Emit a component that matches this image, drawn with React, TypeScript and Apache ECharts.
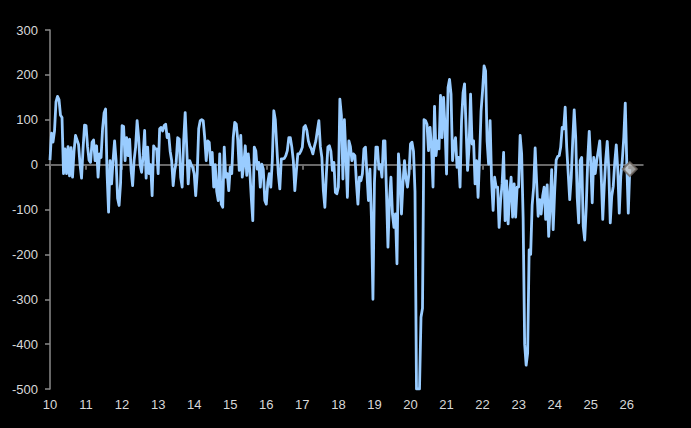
import React, { useEffect, useRef } from "react";
import * as echarts from "echarts";

// Semi-monthly readings, one array per year
const v2010 = [10, 70, 50, 75, 140, 152, 145, 110, 105, -20, 35, -20, 40, -25, 38, -28, 30, 65, 55, 45, 0, -30, 35, 88];
const v2011 = [87, 40, 10, 5, 50, 55, 9, 42, -28, 24, 16, 80, 115, 124, -20, -106, 9, -43, 10, 53, 9, -75, -91, -40];
const v2012 = [87, 85, 9, 60, 20, 57, -13, -47, 10, 39, 98, 60, 0, -17, 20, 76, -30, 39, -20, 0, -69, 42, 35, 35];
const v2013 = [-20, 80, 83, 75, 87, 90, 60, 68, 30, 9, -47, -13, 5, 60, 57, -28, -50, 53, 116, 39, -43, 9, 0, -6];
const v2014 = [-20, -69, -20, 80, 98, 100, 98, 60, 9, 53, 50, 0, 27, -50, 0, -60, -80, 24, -88, -95, 39, -28, -20, -58];
const v2015 = [-6, -20, 60, 94, 90, 55, -13, 65, -28, 0, 42, -24, 24, -13, -73, -125, 39, 31, -10, 5, -50, 1, -10, -80];
const v2016 = [-88, -40, -20, -50, 9, 120, 100, 39, -20, -54, 13, 13, 14, 20, 31, 60, 60, 39, 9, -58, -15, 24, 24, 30];
const v2017 = [39, 83, 87, 76, 53, 42, 35, 24, 40, 53, 76, 98, 40, 16, -58, -95, -21, 39, 42, 30, -13, 5, -62, -65];
const v2018 = [-50, 146, 110, -32, 100, 20, -73, 53, 40, 9, 24, 20, -40, -88, -28, -36, -20, 35, 39, -20, -80, -10, -120, -300];
const v2019 = [-40, 39, 39, -10, 0, -28, 53, 53, -60, -184, -80, -28, -110, -140, -110, -221, 24, -21, -110, -40, 9, -30, -50, -20];
const v2020 = [46, 50, 30, -60, -500, -500, -500, -340, -320, 100, 98, 90, 31, 83, 39, -50, 130, 20, 53, 35, 154, 60, 150, 83];
const v2021 = [-21, 172, 190, 157, 9, 46, 60, -6, 16, -50, 98, 160, 180, 83, -13, 39, 157, 46, 53, -43, 9, -73, 16, 120];
const v2022 = [165, 220, 209, 53, 1, 98, -36, -102, -28, -50, -50, -140, -80, -43, 27, -125, -36, -132, -65, -28, -117, -43, -117, -50];
const v2023 = [-50, 65, 24, -120, -400, -447, -420, -190, -200, -90, -50, 37, -40, -115, -78, -110, -70, -50, -122, -45, -160, -93, -11, -145];
const v2024 = [-60, 10, 18, 20, 39, 83, 80, 128, 39, -19, -78, -30, 53, 122, 60, -73, -130, 9, 16, -137, -168, -95, 10, 74];
const v2025 = [3, -85, 16, -20, 9, 30, 53, -26, -122, -48, 11, 52, -10, -130, -70, -48, 5, 44, -11, -108, -26, 9, 60, 137];
const v2026 = [3, -108, -10];

const years = [10, 11, 12, 13, 14, 15, 16, 17, 18, 19, 20, 21, 22, 23, 24, 25, 26];
const yearValues = [v2010, v2011, v2012, v2013, v2014, v2015, v2016, v2017, v2018, v2019, v2020, v2021, v2022, v2023, v2024, v2025, v2026];
const xTickLabels = [10, 11, 12, 13, 14, 15, 16, 17, 18, 19, 20, 21, 22, 23, 24, 25, 26];
const yTicks = [-500, -400, -300, -200, -100, 0, 100, 200, 300];

export default function App() {
  const ref = useRef<HTMLDivElement>(null);
  useEffect(() => {
    document.body.style.margin = "0";
    document.body.style.background = "#000";
    if (!ref.current) return;
    const chart = echarts.init(ref.current, null, { renderer: "svg" });

    const data: [number, number][] = [];
    years.forEach((y, yi) => {
      yearValues[yi].forEach((v, k) => {
        data.push([y + k / 24, v]);
      });
    });
    const last = data[data.length - 1];

    const labelStyle = {
      color: "#d8d8d8",
      fontSize: 13,
      fontFamily: "Liberation Sans, Arial, sans-serif",
    };

    chart.setOption({
      animation: false,
      backgroundColor: "#000",
      grid: { left: 50, right: 48, top: 30, bottom: 39, containLabel: false },
      xAxis: {
        type: "value",
        min: 10,
        max: 26.45,
        interval: 1,
        splitLine: { show: false },
        axisLine: { show: true, lineStyle: { color: "#8a8a8a", width: 1.5 } },
        axisTick: { show: true, length: 5, lineStyle: { color: "#8a8a8a", width: 1.5 }, customValues: xTickLabels },
        axisLabel: { ...labelStyle, margin: 9, customValues: xTickLabels, formatter: (v: number) => String(v) },
      },
      yAxis: {
        type: "value",
        min: yTicks[0],
        max: yTicks[yTicks.length - 1],
        interval: 100,
        splitLine: { show: false },
        axisLine: { show: true, onZero: false, lineStyle: { color: "#8a8a8a", width: 1.5 } },
        axisTick: { show: true, length: 5, lineStyle: { color: "#8a8a8a", width: 1.5 } },
        axisLabel: { ...labelStyle, margin: 12 },
      },
      series: [
        {
          type: "line",
          data,
          showSymbol: false,
          symbol: "none",
          lineStyle: { color: "#99ccff", width: 2.8, join: "round" },
          z: 3,
          markLine: {
            silent: true,
            symbol: "none",
            label: { show: false },
            lineStyle: { color: "#6a6a6a", width: 1.5, type: "solid" },
            data: [{ yAxis: 0 }],
            z: 2,
          },
        },
        {
          type: "scatter",
          data: [last],
          symbol: "diamond",
          symbolSize: 14,
          itemStyle: { color: "#c4c4c4", borderColor: "#6f6760", borderWidth: 2 },
          z: 5,
        },
      ],
    });
    return () => chart.dispose();
  }, []);
  return <div ref={ref} style={{ width: 691, height: 428 }} />;
}
